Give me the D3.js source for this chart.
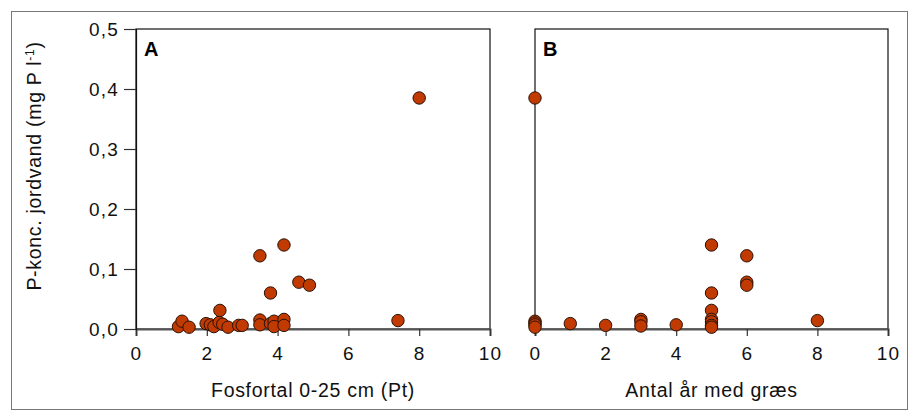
<!DOCTYPE html>
<html>
<head>
<meta charset="utf-8">
<script src="https://cdn.jsdelivr.net/npm/d3@7"></script>
<style>
  html, body { margin: 0; padding: 0; background: #fff; }
  svg { display: block; font-family: "Liberation Sans", Arial, Helvetica, sans-serif; }
</style>
</head>
<body>
<svg id="chart" width="909" height="414"></svg>
<script>
// ---- Data ----
const xTicks = [0, 2, 4, 6, 8, 10];
const yTicks = [0, 0.1, 0.2, 0.3, 0.4, 0.5];

// Panel A: Fosfortal 0-25 cm (Pt) vs P-konc.
const aX = [1.2, 1.3, 1.5, 1.98, 2.1, 2.2, 2.35, 2.37, 2.45, 2.6, 2.9, 3.0, 3.5, 3.5, 3.5, 3.8, 3.8, 3.9, 3.9, 4.18, 4.18, 4.18, 4.6, 4.9, 7.4, 8.0];
const aY = [0.004, 0.013, 0.003, 0.009, 0.007, 0.004, 0.011, 0.031, 0.008, 0.003, 0.006, 0.006, 0.122, 0.015, 0.007, 0.060, 0.009, 0.013, 0.004, 0.140, 0.016, 0.006, 0.078, 0.073, 0.014, 0.385];

// Panel B: Antal år med græs vs P-konc.
const bX = [0, 0, 0, 0, 0, 1, 2, 3, 3, 3, 4, 5, 5, 5, 5, 5, 5, 5, 6, 6, 6, 8];
const bY = [0.385, 0.013, 0.010, 0.007, 0.003, 0.009, 0.006, 0.016, 0.012, 0.005, 0.007, 0.140, 0.060, 0.031, 0.016, 0.012, 0.006, 0.003, 0.122, 0.078, 0.073, 0.014];

const fmt = d => d3.format(".1f")(d).replace(".", ",");

const svg = d3.select("#chart");

// outer frame
svg.append("rect").attr("x", 11.5).attr("y", 11.5).attr("width", 896).attr("height", 398)
  .attr("fill", "none").attr("stroke", "#777").attr("stroke-width", 1);

const plotTop = 29, plotBottom = 329;
const y = d3.scaleLinear().domain([0, 0.5]).range([plotBottom, plotTop]);

const panels = [
  { left: 136, right: 490, xs: aX, ys: aY, label: "A", title: "Fosfortal 0-25 cm (Pt)", yaxis: true },
  { left: 535, right: 888, xs: bX, ys: bY, label: "B", title: "Antal år med græs", yaxis: false }
];

panels.forEach(p => {
  const x = d3.scaleLinear().domain([0, 10]).range([p.left, p.right]);
  const g = svg.append("g");

  // box
  g.append("rect").attr("x", p.left).attr("y", plotTop).attr("width", p.right - p.left).attr("height", plotBottom - plotTop)
    .attr("fill", "none").attr("stroke", "#111").attr("stroke-width", 1.2);

  // x axis
  const xa = g.append("g").attr("transform", `translate(0,${plotBottom})`)
    .call(d3.axisBottom(x).tickValues(xTicks).tickSize(7).tickPadding(11).tickFormat(d3.format("d")));
  xa.select(".domain").attr("stroke", "#555").attr("stroke-width", 2);
  xa.selectAll(".tick line").attr("stroke", "#333").attr("stroke-width", 1.2);
  xa.selectAll(".tick text").attr("font-size", 19).attr("letter-spacing", 1.2).attr("fill", "#111")
    .attr("font-family", "Liberation Sans, Arial, sans-serif");

  if (p.yaxis) {
    const ya = g.append("g").attr("transform", `translate(${p.left},0)`)
      .call(d3.axisLeft(y).tickValues(yTicks).tickSize(12).tickPadding(5).tickFormat(fmt));
    ya.select(".domain").attr("stroke", "#111").attr("stroke-width", 1.2);
    ya.selectAll(".tick line").attr("stroke", "#333").attr("stroke-width", 1.2);
    ya.selectAll(".tick text").attr("font-size", 19).attr("letter-spacing", 1.2).attr("fill", "#111")
      .attr("font-family", "Liberation Sans, Arial, sans-serif");
  }

  // panel label
  g.append("text").attr("x", p.left + 8).attr("y", plotTop + 27).attr("font-size", 20).attr("font-weight", "bold")
    .attr("fill", "#000").text(p.label);

  // x title
  g.append("text").attr("x", (p.left + p.right) / 2).attr("y", 397).attr("text-anchor", "middle")
    .attr("font-size", 19.5).attr("letter-spacing", 0.7).attr("fill", "#111").text(p.title);

  // points
  g.selectAll("circle.pt").data(d3.range(p.xs.length)).join("circle").attr("class", "pt")
    .attr("cx", i => x(p.xs[i])).attr("cy", i => y(p.ys[i])).attr("r", 6.2)
    .attr("fill", "#c03a02").attr("stroke", "#2a1208").attr("stroke-width", 1);
});

// y title
const yt = svg.append("text").attr("transform", "translate(41,166) rotate(-90)")
  .attr("text-anchor", "middle").attr("font-size", 19.5).attr("letter-spacing", 0.7).attr("fill", "#111");
yt.append("tspan").text("P-konc. jordvand (mg P l");
yt.append("tspan").attr("font-size", 12).attr("dy", -7).text("-1");
yt.append("tspan").attr("dy", 7).text(")");
</script>
</body>
</html>
